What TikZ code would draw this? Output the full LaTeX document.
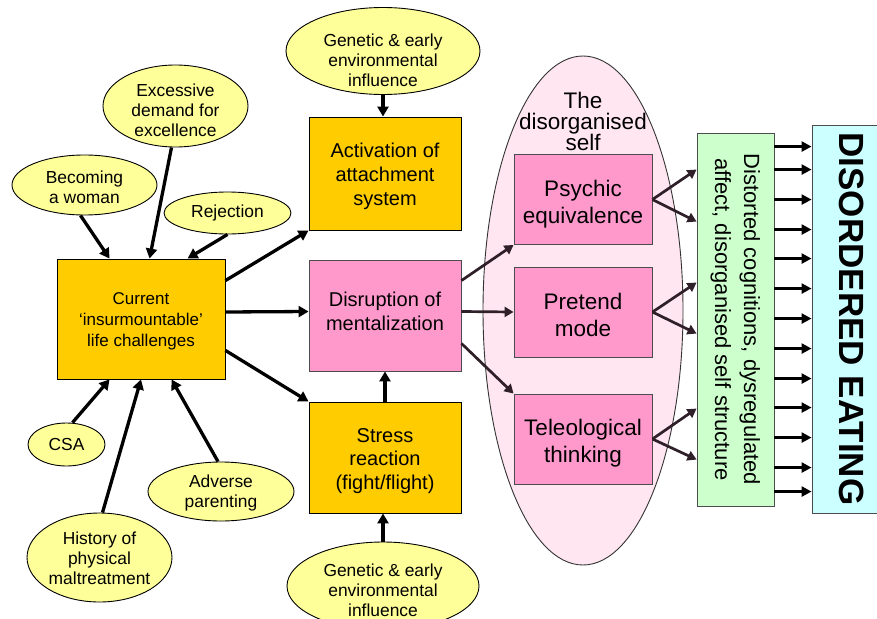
\documentclass[tikz,border=0pt]{standalone}
\usepackage{fontspec}
\setmainfont{Liberation Sans}
\usetikzlibrary{shapes.geometric,arrows.meta}

\definecolor{yelfill}{HTML}{FFFF99}
\definecolor{orafill}{HTML}{FFCC00}
\definecolor{pinkfill}{HTML}{FF99CC}
\definecolor{selffill}{HTML}{FFE6F0}
\definecolor{greenfill}{HTML}{CCFFCC}
\definecolor{bluefill}{HTML}{CCFFFF}
\definecolor{darkarr}{HTML}{2E1F28}

\newcommand{\fs}[2]{\fontsize{#1}{#2}\selectfont}

\tikzset{
  blob/.style={ellipse, draw, line width=0.9pt, fill=yelfill, inner sep=0pt},
  blobtx/.style={align=center, inner sep=0pt, font=\fs{17.4}{20}},
  cause/.style={draw, line width=0.9pt, fill=orafill, inner sep=0pt, minimum width=152pt},
  causetx/.style={align=center, inner sep=0pt, font=\fs{20}{24}},
  mode/.style={draw=black!70, line width=0.9pt, fill=pinkfill, inner sep=0pt, minimum width=138pt, minimum height=90pt},
  modetx/.style={align=center, inner sep=0pt, font=\fs{22.5}{27}},
  arr/.style={-{Triangle[length=10pt,width=11pt]}, line width=3.3pt},
  thinarr/.style={-{Triangle[length=9pt,width=10pt]}, line width=2.7pt, draw=darkarr, fill=darkarr},
  endarr/.style={-{Triangle[length=10pt,width=10pt]}, line width=2.7pt},
}

\begin{document}
\begin{tikzpicture}[x=1pt,y=-1pt]
\useasboundingbox (0,0) rectangle (877,618);

% the disorganised self
\node[ellipse, draw=black!80, line width=0.9pt, fill=selffill, minimum width=200pt, minimum height=509pt, inner sep=0pt] (self) at (583,310.5) {};
\node[align=center, font=\fs{22.5}{21}, inner sep=0pt] (selftitle) at (583,121) {The\\disorganised\\self};

% left side
\node[cause, minimum width=168pt, minimum height=120pt,
  label={[causetx, font=\fs{17}{21}, yshift=-2pt]center:Current\\`insurmountable'\\life challenges}] (cur) at (141,319) {};
\node[blob, minimum width=145pt, minimum height=60pt, label={[blobtx, yshift=-2pt]center:Becoming\\a woman}] (woman) at (84.5,185) {};
\node[blob, minimum width=145pt, minimum height=82pt, label={[blobtx, yshift=-4pt]center:Excessive\\demand for\\excellence}] (excess) at (175.5,106) {};
\node[blob, minimum width=127pt, minimum height=42pt, label={[blobtx]center:Rejection}] (reject) at (227.5,213) {};
\node[blob, minimum width=77pt, minimum height=43pt, label={[blobtx]center:CSA}] (csa) at (66.5,444.5) {};
\node[blob, minimum width=145pt, minimum height=89pt, label={[blobtx, yshift=-1pt]center:History of\\physical\\maltreatment}] (history) at (99.5,557.5) {};
\node[blob, minimum width=146pt, minimum height=59pt, label={[blobtx, yshift=-1.5pt]center:Adverse\\parenting}] (adverse) at (221,491.5) {};

% middle column
\node[cause, minimum height=113pt, label={[causetx, yshift=-3pt]center:Activation of\\attachment\\system}] (attach) at (385,173.5) {};
\node[cause, fill=pinkfill, draw=black!70, minimum height=111pt, label={[causetx, yshift=4.5pt]center:Disruption of\\mentalization}] (disrupt) at (385,315.5) {};
\node[cause, minimum height=111pt, label={[causetx, font=\fs{20}{23.5}, yshift=-3.5pt]center:Stress\\reaction\\(fight/flight)}] (stress) at (385,457.5) {};
\node[blob, minimum width=194pt, minimum height=87pt, label={[blobtx, yshift=-9pt]center:Genetic \& early\\environmental\\influence}] (gentop) at (383,51) {};
\node[blob, minimum width=192pt, minimum height=88pt, label={[blobtx, yshift=-4pt]center:Genetic \& early\\environmental\\influence}] (genbot) at (383,586) {};

% modes
\node[mode, label={[modetx, yshift=-5pt]center:Psychic\\equivalence}] (psychic) at (583,199.5) {};
\node[mode, label={[modetx, yshift=-3pt]center:Pretend\\mode}] (pretend) at (583,312) {};
\node[mode, label={[modetx, yshift=-4.5pt]center:Teleological\\thinking}] (teleo) at (583,439) {};

% outcome
\node[draw=black!70, line width=0.9pt, fill=greenfill, minimum width=77pt, minimum height=373pt, inner sep=0pt] (green) at (735.5,319.5)
  {\rotatebox{-90}{\fs{22}{29}\begin{tabular}{@{}c@{}}Distorted cognitions, dysregulated\\affect, disorganised self structure\end{tabular}}\hspace{5pt}};
\node[draw=black!70, line width=0.9pt, fill=bluefill, minimum width=80pt, minimum height=388pt, inner sep=0pt] (eating) at (852,319)
  {\rotatebox{-90}{\fs{35}{40}\bfseries DISORDERED EATING}};

% arrows into current challenges
\draw[arr] ([xshift=-4pt]woman.south) -- ([xshift=53pt]cur.north west);
\draw[arr] ([xshift=-4pt]excess.south) -- ([xshift=93pt]cur.north west);
\draw[arr] (reject.south) -- ([xshift=131pt]cur.north west);
\draw[arr] ([xshift=6pt]csa.north) -- ([xshift=53pt]cur.south west);
\draw[arr] ([xshift=3pt]history.north) -- (cur.south);
\draw[arr] ([xshift=-3pt]adverse.north) -- ([xshift=115pt]cur.south west);

% out of current challenges
\draw[arr] ([yshift=-22pt]cur.north east) -- (attach.south west);
\draw[arr] ([yshift=7pt]cur.east) -- ([yshift=4pt]disrupt.west);
\draw[arr] ([yshift=29pt]cur.south east) -- (stress.north west);
\draw[arr] (gentop.south) -- (gentop.south |- attach.north);
\draw[arr] (stress.north) -- (disrupt.south);
\draw[arr] (genbot.north) -- (genbot.north |- stress.south);

% into the disorganised self
\draw[thinarr] ([yshift=-21pt]disrupt.north east) -- (psychic.south west);
\draw[thinarr] ([yshift=4pt]disrupt.east) -- (pretend.west);
\draw[thinarr] ([yshift=28pt]disrupt.south east) -- (teleo.north west);

\foreach \m/\u/\l in {psychic/37/89, pretend/150/201, teleo/276/327} {
  \draw[thinarr] (\m.east) -- ([yshift=-\u pt]green.north west);
  \draw[thinarr] (\m.east) -- ([yshift=-\l pt]green.north west);
}

\foreach \d [evaluate=\d as \e using \d+8] in {14,37,67,97,126,156,186,216,246,275,305,335,359}
  \draw[endarr] ([yshift=-\d pt]green.north east) -- ([yshift=-\e pt]eating.north west);
\end{tikzpicture}
\end{document}
